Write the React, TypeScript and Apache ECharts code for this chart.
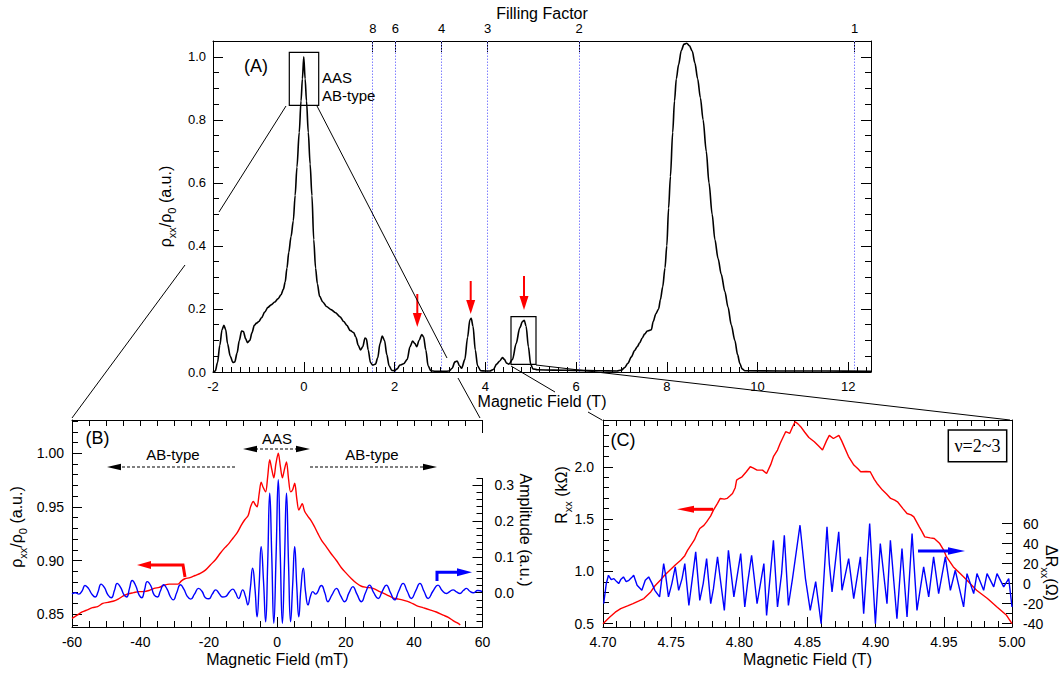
import React, { useEffect, useRef } from 'react';
import * as echarts from 'echarts';

const FONT = '"Liberation Sans", Arial, Helvetica, sans-serif';
const SERIF = '"Liberation Serif", "Times New Roman", serif';

// ---------- Panel A : rho_xx/rho_0 vs magnetic field (T) ----------
const curveA: [number, number][] = [
  [-2.0, 0.0], [-1.95, 0.003], [-1.9, 0.03], [-1.85, 0.085], [-1.8, 0.135], [-1.76, 0.148], [-1.72, 0.135],
  [-1.68, 0.09], [-1.62, 0.05], [-1.56, 0.03], [-1.52, 0.032], [-1.47, 0.06], [-1.42, 0.1], [-1.37, 0.13],
  [-1.33, 0.128], [-1.28, 0.105], [-1.24, 0.093], [-1.19, 0.1], [-1.14, 0.125], [-1.09, 0.148], [-1.04, 0.155],
  [-0.99, 0.16], [-0.93, 0.172], [-0.86, 0.19], [-0.79, 0.205], [-0.72, 0.213], [-0.64, 0.222], [-0.57, 0.232],
  [-0.5, 0.245], [-0.45, 0.262], [-0.41, 0.285], [-0.37, 0.33], [-0.33, 0.38], [-0.28, 0.43], [-0.23, 0.48],
  [-0.19, 0.56], [-0.15, 0.65], [-0.1, 0.76], [-0.06, 0.86], [-0.03, 0.93], [0, 1.0], [0.03, 0.93], [0.06, 0.86],
  [0.1, 0.76], [0.14, 0.66], [0.18, 0.56], [0.22, 0.42], [0.26, 0.33], [0.3, 0.28], [0.35, 0.24], [0.42, 0.222],
  [0.5, 0.208], [0.6, 0.198], [0.7, 0.188], [0.8, 0.175], [0.88, 0.16], [0.95, 0.148], [1.02, 0.132], [1.1, 0.125],
  [1.15, 0.11], [1.2, 0.085], [1.25, 0.07], [1.3, 0.08], [1.35, 0.108], [1.38, 0.105], [1.42, 0.07], [1.47, 0.03],
  [1.52, 0.022], [1.58, 0.025], [1.63, 0.045], [1.68, 0.09], [1.73, 0.114], [1.78, 0.1], [1.83, 0.055], [1.88, 0.02],
  [1.94, 0.005], [2.0, 0.004], [2.06, 0.01], [2.12, 0.022], [2.2, 0.026], [2.28, 0.04], [2.34, 0.08], [2.4, 0.098],
  [2.45, 0.09], [2.49, 0.08], [2.54, 0.1], [2.6, 0.119], [2.64, 0.112], [2.69, 0.07], [2.74, 0.02], [2.8, 0.004],
  [2.9, 0.002], [3.0, 0.002], [3.1, 0.002], [3.2, 0.003], [3.27, 0.012], [3.33, 0.032], [3.38, 0.035], [3.43, 0.02],
  [3.48, 0.012], [3.55, 0.04], [3.61, 0.11], [3.66, 0.165], [3.69, 0.17], [3.73, 0.145], [3.78, 0.07], [3.83, 0.02],
  [3.9, 0.004], [4.0, 0.003], [4.1, 0.003], [4.18, 0.008], [4.25, 0.025], [4.32, 0.035], [4.38, 0.046], [4.42, 0.04],
  [4.47, 0.028], [4.52, 0.025], [4.6, 0.04], [4.68, 0.09], [4.76, 0.14], [4.82, 0.16], [4.86, 0.164], [4.9, 0.145],
  [4.95, 0.08], [5.0, 0.025], [5.05, 0.01], [5.15, 0.007], [5.5, 0.006], [6.0, 0.005], [6.5, 0.004], [6.9, 0.003],
  [7.0, 0.006], [7.07, 0.014], [7.14, 0.027], [7.22, 0.048], [7.29, 0.068], [7.35, 0.08], [7.4, 0.092], [7.46, 0.108],
  [7.51, 0.12], [7.57, 0.13], [7.62, 0.132], [7.66, 0.134], [7.7, 0.16], [7.76, 0.185], [7.82, 0.2], [7.86, 0.23],
  [7.91, 0.27], [7.96, 0.33], [8.0, 0.4], [8.04, 0.52], [8.08, 0.62], [8.13, 0.76], [8.17, 0.86], [8.21, 0.93],
  [8.26, 0.975], [8.32, 1.02], [8.38, 1.04], [8.44, 1.043], [8.5, 1.035], [8.56, 1.018], [8.62, 0.98], [8.68, 0.93],
  [8.74, 0.87], [8.8, 0.8], [8.87, 0.7], [8.93, 0.6], [9.0, 0.5], [9.06, 0.42], [9.13, 0.36], [9.2, 0.31],
  [9.28, 0.255], [9.35, 0.205], [9.42, 0.15], [9.5, 0.1], [9.56, 0.055], [9.61, 0.027], [9.66, 0.01], [9.72, 0.004],
  [10.5, 0.003], [11.5, 0.003], [12.5, 0.002],
];
const aXTicks = [-2, 0, 2, 4, 6, 8, 10, 12];
const aYTicks = [0, 0.2, 0.4, 0.6, 0.8, 1.0];
const fillingFactors = [8, 6, 4, 3, 2, 1];
const fillingFieldT = [1.52, 2.02, 3.04, 4.05, 6.07, 12.14];

// ---------- Panel B : zoom around B = 0 (mT) ----------
const redB: [number, number][] = [
  [-60, 0.846], [-58.5, 0.849], [-57, 0.852], [-55.5, 0.854], [-54, 0.856], [-52.5, 0.857], [-51, 0.86],
  [-49.5, 0.861], [-48, 0.862], [-46.5, 0.864], [-45, 0.867], [-43.5, 0.869], [-42, 0.87], [-40.5, 0.871],
  [-39, 0.871], [-37.5, 0.872], [-36, 0.874], [-34.5, 0.875], [-33, 0.877], [-31.5, 0.878], [-30, 0.878],
  [-29, 0.878], [-28, 0.881], [-27, 0.883], [-25.5, 0.884], [-24, 0.886], [-22.5, 0.888], [-21, 0.891],
  [-19.5, 0.896], [-18, 0.901], [-16.6, 0.907], [-15.3, 0.912], [-14.1, 0.916], [-12.9, 0.921], [-11.7, 0.926],
  [-10.5, 0.933], [-9.5, 0.938], [-8.5, 0.942], [-7.8, 0.95], [-7.0, 0.955], [-6.4, 0.952], [-5.9, 0.95],
  [-5.3, 0.962], [-4.7, 0.973], [-4.1, 0.968], [-3.4, 0.964], [-2.8, 0.978], [-2.2, 0.994], [-1.6, 0.985],
  [-1.0, 0.977], [-0.4, 0.99], [0.3, 1.0], [0.9, 0.988], [1.5, 0.977], [2.1, 0.985], [2.7, 0.992], [3.3, 0.976],
  [3.9, 0.964], [4.5, 0.966], [5.1, 0.972], [5.7, 0.958], [6.3, 0.947], [6.8, 0.95], [7.3, 0.953], [8.0, 0.946],
  [9.0, 0.941], [9.7, 0.938], [10.8, 0.932], [11.9, 0.925], [13.1, 0.918], [14.3, 0.913], [15.6, 0.907],
  [17.3, 0.9], [18.8, 0.893], [20.2, 0.888], [21.7, 0.883], [23.1, 0.879], [24.6, 0.876], [26, 0.875],
  [28, 0.874], [30, 0.871], [32, 0.868], [33.9, 0.865], [35.5, 0.864], [36.8, 0.863], [38.8, 0.861],
  [40.7, 0.858], [42.6, 0.856], [44.6, 0.854], [46.5, 0.852], [48.5, 0.849], [50, 0.847], [51.4, 0.844],
  [52.5, 0.842], [53.5, 0.84],
];
const blueB: [number, number][] = [
  [-60, -0.003], [-59, 0.0], [-58, -0.004], [-57, 0.006], [-56.2, 0.02], [-55.2, 0.012], [-54.2, -0.004],
  [-53.2, -0.012], [-52.4, 0.002], [-51.5, 0.024], [-50.5, 0.014], [-49.5, -0.006], [-48.5, -0.014],
  [-47.6, 0.006], [-46.8, 0.026], [-45.8, 0.015], [-44.8, -0.006], [-44, -0.012], [-43.2, 0.012], [-42.4, 0.034],
  [-41.4, 0.02], [-40.4, -0.006], [-39.6, -0.014], [-38.8, 0.008], [-38, 0.031], [-37, 0.02], [-36, -0.006],
  [-35, -0.012], [-34.2, 0.004], [-33.2, 0.022], [-32.2, 0.01], [-31.2, -0.012], [-30.4, -0.02], [-29.4, 0.0],
  [-28.3, 0.022], [-27.3, 0.01], [-26.3, -0.01], [-25.3, -0.018], [-24.2, -0.004], [-23, 0.012], [-22, 0.004],
  [-21, -0.014], [-20, -0.017], [-19, -0.004], [-18, 0.008], [-17, -0.002], [-16, -0.012], [-15, -0.01],
  [-14, 0.002], [-13, 0.01], [-12.2, 0.0], [-11.3, -0.016], [-10.1, 0.008], [-9.3, -0.01], [-8.6, -0.034],
  [-7.9, 0.01], [-7.2, 0.068], [-6.5, 0.01], [-5.9, -0.067], [-5.3, 0.02], [-4.7, 0.128], [-4.0, 0.03],
  [-3.4, -0.081], [-2.8, 0.08], [-2.2, 0.277], [-1.6, 0.1], [-1.0, -0.085], [-0.35, 0.1], [0.3, 0.315],
  [0.9, 0.1], [1.5, -0.085], [2.1, 0.08], [2.7, 0.277], [3.3, 0.08], [3.9, -0.081], [4.5, 0.02], [5.1, 0.128],
  [5.7, 0.02], [6.3, -0.067], [6.9, 0.01], [7.6, 0.068], [8.3, 0.0], [9.0, -0.034], [9.7, -0.01], [10.4, 0.003],
  [11.2, -0.004], [12.9, 0.02], [13.9, 0.0], [14.8, -0.025], [16, -0.006], [17.3, 0.012], [18.5, -0.008],
  [19.7, -0.025], [21, 0.0], [22.1, 0.017], [23.3, -0.004], [24.6, -0.025], [25.8, 0.0], [27, 0.021],
  [28.2, 0.0], [29.5, -0.016], [30.7, 0.004], [31.9, 0.021], [33.1, 0.0], [34.3, -0.02], [35.5, 0.004],
  [36.8, 0.026], [38, 0.004], [39.2, -0.016], [40.5, 0.006], [41.7, 0.026], [42.9, 0.004], [44.1, -0.016],
  [45.5, 0.004], [47, 0.021], [48.2, 0.006], [49.5, -0.002], [50.5, 0.004], [51.4, 0.008], [52.4, 0.002],
  [53.4, -0.002], [54.4, 0.006], [55.3, 0.012], [56.3, 0.004], [57.3, 0.0], [58.6, 0.006], [60, 0.003],
];
const bXTicks = [-60, -40, -20, 0, 20, 40, 60];
const bYTicks = [0.85, 0.9, 0.95, 1.0];
const bAmpTicks = [0, 0.1, 0.2, 0.3];

// ---------- Panel C : nu = 2~3 region ----------
const redC: [number, number][] = [
  [4.7, 0.5], [4.705, 0.563], [4.709, 0.61], [4.713, 0.644], [4.718, 0.67], [4.722, 0.692], [4.726, 0.715],
  [4.73, 0.74], [4.735, 0.803], [4.738, 0.86], [4.742, 0.915], [4.745, 0.96], [4.749, 1.01], [4.753, 1.06],
  [4.757, 1.106], [4.76, 1.15], [4.762, 1.2], [4.765, 1.26], [4.767, 1.3], [4.769, 1.36], [4.771, 1.41],
  [4.774, 1.44], [4.776, 1.473], [4.779, 1.53], [4.781, 1.585], [4.784, 1.65], [4.786, 1.697], [4.789, 1.69],
  [4.791, 1.697], [4.793, 1.72], [4.795, 1.745], [4.797, 1.8], [4.798, 1.873], [4.8, 1.89], [4.802, 1.904],
  [4.805, 1.95], [4.808, 2.0], [4.81, 1.99], [4.813, 1.968], [4.817, 1.968], [4.82, 1.936], [4.823, 2.02],
  [4.825, 2.096], [4.828, 2.16], [4.83, 2.224], [4.832, 2.28], [4.834, 2.335], [4.837, 2.32], [4.839, 2.38],
  [4.841, 2.431], [4.843, 2.41], [4.845, 2.383], [4.848, 2.33], [4.851, 2.28], [4.855, 2.239], [4.858, 2.2],
  [4.861, 2.16], [4.864, 2.25], [4.866, 2.3], [4.869, 2.27], [4.873, 2.3], [4.875, 2.25], [4.877, 2.19],
  [4.88, 2.1], [4.884, 2.016], [4.887, 1.98], [4.889, 1.952], [4.893, 1.955], [4.896, 1.952], [4.899, 1.88],
  [4.901, 1.84], [4.905, 1.777], [4.908, 1.74], [4.911, 1.697], [4.914, 1.68], [4.916, 1.665], [4.92, 1.6],
  [4.923, 1.553], [4.926, 1.54], [4.928, 1.521], [4.932, 1.425], [4.934, 1.38], [4.936, 1.33], [4.94, 1.32],
  [4.943, 1.314], [4.947, 1.266], [4.95, 1.2], [4.952, 1.138], [4.957, 1.042], [4.962, 0.979], [4.967, 0.915],
  [4.974, 0.819], [4.982, 0.74], [4.989, 0.659], [4.996, 0.58], [5.0, 0.5],
];
const blueC: [number, number][] = [
  [4.7005, -20], [4.7024, 0], [4.704, 8.3], [4.706, 4], [4.708, 5], [4.71, 2], [4.7115, 0], [4.713, 4],
  [4.715, 6.7], [4.717, 2], [4.719, 3.3], [4.721, 6], [4.7225, 8.3], [4.725, -1.7], [4.7285, -6.7], [4.731, 3.3],
  [4.7335, 6.7], [4.736, 0], [4.738, -6.7], [4.7415, -13.3], [4.7445, 20], [4.746, 8], [4.748, -13.3],
  [4.7505, 0], [4.753, 16.7], [4.7555, -6.7], [4.758, 5], [4.76, 20], [4.763, -21.7], [4.7655, 5], [4.768, 31.7],
  [4.771, -16.7], [4.7735, 0], [4.776, 25], [4.779, -20], [4.781, -5], [4.784, 26.7], [4.786, 5], [4.789, -26.7],
  [4.792, 33.3], [4.794, 10], [4.796, -13.3], [4.801, 30], [4.804, -23.3], [4.806, 0], [4.809, 28.3],
  [4.811, 5], [4.813, -20], [4.818, 20], [4.82, -31.7], [4.825, 43.3], [4.828, -23.3], [4.831, 10],
  [4.833, 48.3], [4.836, -21.7], [4.839, 5], [4.8445, 58.3], [4.8485, 5], [4.852, -26.7], [4.856, 2],
  [4.86, -40], [4.8643, 56.7], [4.866, 20], [4.868, -8.3], [4.8729, 51.7], [4.8753, -6.7], [4.8802, 25],
  [4.8839, -15], [4.8888, 26.7], [4.8912, -30], [4.8956, 60], [4.8998, -40], [4.9034, 40], [4.9083, -20],
  [4.9108, 43.3], [4.9156, -35], [4.9193, 35], [4.923, -33.3], [4.9267, 50], [4.9303, -26.7], [4.9352, 16.7],
  [4.9389, -13.3], [4.9425, 26.7], [4.9462, -10], [4.9511, 26.7], [4.9548, -6.7], [4.9584, 13.3],
  [4.9645, -23.3], [4.967, 10], [4.9719, -10], [4.9743, 10], [4.9792, -6.7], [4.9817, 10], [4.9866, -3.3],
  [4.989, 10], [4.9939, -3.3], [4.9976, 5], [5.0, -23.3],
];
const cXTicks = [4.7, 4.75, 4.8, 4.85, 4.9, 4.95, 5.0];
const cYTicks = [0.5, 1.0, 1.5, 2.0];
const cDTicks = [-40, -20, 0, 20, 40, 60];

// ---------- helpers ----------
function range(a: number, b: number, step: number): number[] {
  const out: number[] = [];
  const n = Math.round((b - a) / step);
  for (let i = 0; i <= n; i++) out.push(+(a + i * step).toFixed(6));
  return out;
}

const AX_LINE = { color: '#000', width: 1 };
const DOT_BLUE = '#8080ff';

function axis(gridIndex: number, position: string, min: number, max: number, o: any) {
  const a: any = {
    type: 'value', gridIndex, position, min, max,
    splitLine: { show: false },
    axisLine: { show: !!o.line, onZero: false, lineStyle: AX_LINE },
    axisTick: o.ticks
      ? { show: true, inside: true, length: o.len, customValues: o.ticks, lineStyle: AX_LINE }
      : { show: false },
    axisLabel: o.labels
      ? { show: true, customValues: o.labels, formatter: o.fmt, fontSize: o.fs || 13, fontFamily: FONT, color: '#000', margin: o.margin ?? 8 }
      : { show: false },
  };
  if (o.name) {
    a.name = o.name;
    a.nameLocation = 'middle';
    a.nameGap = o.nameGap;
    a.nameTextStyle = { fontSize: 16, fontFamily: FONT, color: '#000', rich: o.rich };
  }
  return a;
}

const SUB_RICH = {
  n: { fontSize: 16, fontFamily: FONT, color: '#000', verticalAlign: 'top' },
  s: { fontSize: 11, fontFamily: FONT, color: '#000', verticalAlign: 'top', padding: [9, 0, 0, 0] },
};

const txt = (x: number, y: number, text: string, size: number, extra: any = {}) => ({
  type: 'text', x, y, z: 100, rotation: extra.rotation || 0,
  style: {
    text, fontSize: size, fontFamily: extra.family || FONT, fill: '#000',
    align: extra.align || 'center', verticalAlign: 'middle',
    textAlign: extra.align || 'center', textVerticalAlign: 'middle', rich: extra.rich,
  },
});
const seg = (x1: number, y1: number, x2: number, y2: number, color = '#000', width = 1, dash?: number[]) => ({
  type: 'line', z: 100, shape: { x1, y1, x2, y2 },
  style: dash ? { stroke: color, lineWidth: width, lineDash: dash } : { stroke: color, lineWidth: width },
});
const poly = (points: number[][], color: string) => ({ type: 'polygon', z: 100, shape: { points }, style: { fill: color } });
const pline = (points: number[][], color: string, width: number) => ({
  type: 'polyline', z: 100, shape: { points }, style: { stroke: color, lineWidth: width, fill: 'none' },
});
const box = (x: number, y: number, w: number, h: number, width = 1.2, fill = 'none') => ({
  type: 'rect', z: 99, shape: { x, y, width: w, height: h }, style: { stroke: '#000', fill, lineWidth: width },
});
const downArrow = (x: number, top: number, tip: number) => [
  seg(x, top, x, tip - 12, '#ff0000', 2),
  poly([[x - 4.5, tip - 14], [x + 4.5, tip - 14], [x, tip]], '#ff0000'),
];

const option: any = {
  animation: false,
  backgroundColor: '#fff',
  grid: [
    { left: 213, top: 41, width: 658, height: 331, outerBoundsMode: 'none' },
    { left: 72, top: 420, width: 410.5, height: 207, outerBoundsMode: 'none' },
    { left: 603, top: 420, width: 409, height: 207, outerBoundsMode: 'none' },
  ],
  xAxis: [
    axis(0, 'bottom', -2, 12.5, { line: true, ticks: aXTicks, len: 10, labels: aXTicks, fmt: (v: number) => String(v), fs: 13, margin: 8, name: 'Magnetic Field (T)', nameGap: 18 }),
    axis(0, 'bottom', -2, 12.5, { ticks: range(-2, 12.4, 0.2), len: 5 }),
    axis(0, 'top', -2, 12.5, {
      line: true, ticks: fillingFieldT, len: 11, labels: fillingFieldT, fs: 13, margin: 6,
      fmt: (v: number) => { const i = fillingFieldT.findIndex((f) => Math.abs(f - v) < 1e-6); return i >= 0 ? String(fillingFactors[i]) : ''; },
      name: 'Filling Factor', nameGap: 20,
    }),
    axis(1, 'bottom', -60, 60, { line: true, ticks: bXTicks, len: 10, labels: bXTicks, fmt: (v: number) => String(v), fs: 14, margin: 8, name: 'Magnetic Field (mT)', nameGap: 24 }),
    axis(1, 'bottom', -60, 60, { ticks: range(-60, 60, 5), len: 6 }),
    axis(1, 'top', -60, 60, { line: true, ticks: range(-60, 60, 5), len: 6 }),
    axis(2, 'bottom', 4.7, 5.0, { line: true, ticks: cXTicks, len: 10, labels: cXTicks, fmt: (v: number) => v.toFixed(2), fs: 14, margin: 8, name: 'Magnetic Field (T)', nameGap: 24 }),
    axis(2, 'bottom', 4.7, 5.0, { ticks: range(4.7, 5.0, 0.01), len: 6 }),
    axis(2, 'top', 4.7, 5.0, { line: true, ticks: range(4.7, 5.0, 0.01), len: 6 }),
  ],
  yAxis: [
    axis(0, 'left', 0, 1.05, {
      line: true, ticks: aYTicks, len: 10, labels: aYTicks, fmt: (v: number) => v.toFixed(1), fs: 13, margin: 7,
      name: '{n|ρ}{s|xx}{n|/ρ}{s|0}{n| (a.u.)}', nameGap: 30, rich: SUB_RICH,
    }),
    axis(0, 'left', 0, 1.05, { ticks: range(0, 1.05, 0.05), len: 6 }),
    axis(0, 'right', 0, 1.05, { line: true, ticks: aYTicks, len: 10 }),
    axis(0, 'right', 0, 1.05, { ticks: range(0, 1.05, 0.05), len: 6 }),
    axis(1, 'left', 0.838, 1.031, { line: true, ticks: bYTicks, len: 10, labels: bYTicks, fmt: (v: number) => v.toFixed(2), fs: 14, margin: 8 }),
    axis(1, 'left', 0.838, 1.031, { ticks: range(0.84, 1.03, 0.01), len: 6 }),
    axis(1, 'right', -0.0955, 0.481, { ticks: bAmpTicks, len: 10, labels: bAmpTicks, fmt: (v: number) => v.toFixed(1), fs: 14, margin: 12 }),
    axis(1, 'right', -0.0955, 0.481, { ticks: range(-0.08, 0.32, 0.02), len: 6 }),
    axis(2, 'left', 0.468, 2.447, { line: true, ticks: cYTicks, len: 10, labels: cYTicks, fmt: (v: number) => v.toFixed(1), fs: 14, margin: 9 }),
    axis(2, 'left', 0.468, 2.447, { ticks: range(0.5, 2.4, 0.1), len: 6 }),
    axis(2, 'right', -43.3, 163.3, { line: true, ticks: cDTicks, len: 10, labels: cDTicks, fmt: (v: number) => String(v), fs: 14, margin: 11 }),
    axis(2, 'right', -43.3, 163.3, { ticks: range(-40, 60, 10), len: 6 }),
  ],
  series: [
    {
      type: 'line', xAxisIndex: 0, yAxisIndex: 0, data: curveA, showSymbol: false, smooth: 0.3,
      smoothMonotone: 'x', lineStyle: { color: '#000', width: 1.6 }, z: 5,
      markLine: {
        silent: true, symbol: ['none', 'none'], label: { show: false }, z: 1,
        itemStyle: { color: DOT_BLUE },
        lineStyle: { type: [1.5, 1.5], color: DOT_BLUE, width: 1, opacity: 1 },
        emphasis: { disabled: true },
        data: fillingFieldT.map((v) => ({ xAxis: v, lineStyle: { color: DOT_BLUE, type: [1.5, 1.5], width: 1 } })),
      },
    },
    { type: 'line', xAxisIndex: 3, yAxisIndex: 4, data: redB, showSymbol: false, smooth: 0.3, lineStyle: { color: '#ff0000', width: 1.4 } },
    { type: 'line', xAxisIndex: 3, yAxisIndex: 6, data: blueB, showSymbol: false, smooth: 0.5, lineStyle: { color: '#0000ff', width: 1.4 } },
    { type: 'line', xAxisIndex: 6, yAxisIndex: 8, data: redC, showSymbol: false, lineStyle: { color: '#ff0000', width: 1.4 } },
    { type: 'line', xAxisIndex: 6, yAxisIndex: 10, data: blueC, showSymbol: false, lineStyle: { color: '#0000ff', width: 1.4 } },
  ],
  graphic: {
    elements: [
      // panel A annotations
      txt(256, 66, '(A)', 18),
      txt(322, 77, 'AAS', 15, { align: 'left' }),
      txt(322, 95, 'AB-type', 15, { align: 'left' }),
      box(289.3, 52.3, 29.4, 53),
      box(511, 316.7, 25, 47.6),
      ...downArrow(417.3, 294, 327),
      ...downArrow(470.7, 281, 314),
      ...downArrow(524, 276, 310),
      // zoom connectors
      seg(286, 106, 219, 212), seg(185, 265, 72, 418),
      seg(317, 106, 447, 358), seg(458, 378, 480, 418),
      seg(511, 366, 555, 392), seg(588, 412, 602, 420),
      seg(536, 365, 1010, 420),
      // panel B
      seg(482.5, 420, 482.5, 433), seg(482.5, 478, 482.5, 627),
      txt(97.5, 438, '(B)', 18),
      txt(173, 454, 'AB-type', 15),
      txt(277, 438, 'AAS', 15),
      txt(372, 454, 'AB-type', 15),
      seg(235, 467, 119, 467, '#000', 1.2, [3, 2]),
      poly([[121, 463.7], [121, 470.3], [107, 467]], '#000'),
      seg(310, 467, 424, 467, '#000', 1.2, [3, 2]),
      poly([[423, 463.7], [423, 470.3], [437, 467]], '#000'),
      seg(255, 449, 298, 449, '#000', 1.2, [3, 2]),
      poly([[257, 445.7], [257, 452.3], [243, 449]], '#000'),
      poly([[296, 445.7], [296, 452.3], [310, 449]], '#000'),
      pline([[185, 577], [183, 565], [150, 565]], '#ff0000', 3),
      poly([[151, 561], [151, 569], [137, 565]], '#ff0000'),
      pline([[437, 581], [437, 572.3], [458, 572.3]], '#0000ff', 3),
      poly([[457, 568.3], [457, 576.3], [472, 572.3]], '#0000ff'),
      txt(18, 527, '{n|ρ}{s|xx}{n|/ρ}{s|0}{n| (a.u.)}', 16, { rotation: Math.PI / 2, rich: SUB_RICH }),
      txt(525, 530, 'Amplitude (a.u.)', 16, { rotation: -Math.PI / 2 }),
      // panel C
      txt(623, 440, '(C)', 18),
      box(948.3, 430, 58.4, 31.7, 1.5, '#fff'),
      txt(977.5, 446, 'ν=2~3', 18, { family: SERIF }),
      pline([[713, 509.3], [693, 509.3]], '#ff0000', 3),
      poly([[694, 505.8], [694, 512.8], [677, 509.3]], '#ff0000'),
      pline([[918, 551], [949, 551]], '#0000ff', 3),
      poly([[948, 547.3], [948, 554.7], [965, 551]], '#0000ff'),
      txt(563, 495, '{n|R}{s|xx}{n| (kΩ)}', 16, { rotation: Math.PI / 2, rich: SUB_RICH }),
      txt(1049, 573, '{n|ΔR}{s|xx}{n|(Ω)}', 15, { rotation: -Math.PI / 2, rich: SUB_RICH }),
    ],
  },
};

export default function App() {
  const ref = useRef<HTMLDivElement>(null);
  useEffect(() => {
    const chart = echarts.init(ref.current!, null, { renderer: 'svg' });
    chart.setOption(option);
    return () => chart.dispose();
  }, []);
  return (
    <div
      ref={ref}
      style={{ position: 'absolute', left: 0, top: 0, width: 1064, height: 676, background: '#fff' }}
    />
  );
}
